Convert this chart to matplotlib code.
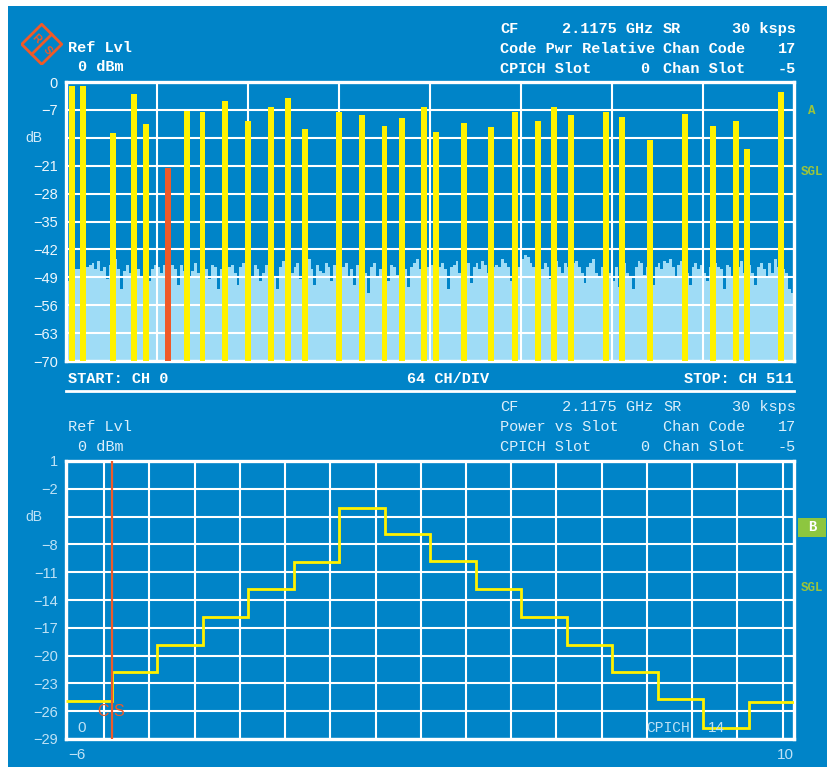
import numpy as np
import matplotlib.pyplot as plt
from matplotlib.patches import Rectangle, Polygon

# --- code domain power (upper trace) ---
code_ch = [4, 12, 33, 48, 56, 85, 96, 112, 128, 144, 156, 168, 192, 208, 224, 236,
           252, 260, 280, 299, 316, 332, 343, 355, 380, 391, 411, 435, 455, 471, 479, 503]
code_db = [-1.0, -1.0, -12.8, -3.0, -10.5, -7.3, -7.5, -4.8, -9.8, -6.3, -4.0, -11.8,
           -7.5, -8.3, -11.0, -9.0, -6.3, -12.5, -10.3, -11.3, -7.5, -9.8, -6.3, -8.3,
           -7.5, -8.8, -14.5, -8.0, -11.0, -9.8, -16.8, -2.5]
sel_ch = 72
sel_db = -21.7

# inactive channel floor, one value per 2 channels (0..511)
noise_db = [
    -50, -48, -51, -47, -47, -49, -48, -46.5, -46, -45.5, -47, -45, -47.5, -46.5, -49.5, -46,
    -46, -44.5, -47, -52, -47.5, -46, -48, -46, -44.5, -47, -49, -46.5, -46.5, -50, -47, -46,
    -46.5, -48, -46, -47.5, -48.5, -46, -47, -51, -46, -47.5, -46.5, -49, -47.5, -45.5, -48, -46.5,
    -45.5, -47, -49.5, -46, -46.5, -52, -47, -44.5, -47.5, -46.5, -46, -48, -51, -46.5, -45.5, -44,
    -47, -49, -46, -47, -50, -48, -46, -46.5, -45.5, -49, -52, -46.5, -45, -46, -47, -48,
    -46.5, -45.5, -49.5, -48, -46, -44.5, -47, -51, -46, -47.5, -48, -45.5, -46.5, -50, -46, -47,
    -45, -46.5, -45.5, -49, -47, -51, -46, -44, -46.5, -48, -53, -46.5, -45.5, -49, -47, -45.5,
    -46.5, -50, -46, -46.5, -48.5, -45, -45.5, -47, -51.5, -46.5, -45.5, -44.5, -47, -48, -49, -46.5,
    -46, -48, -50, -46.5, -45.5, -47, -52, -46.5, -46, -45, -48, -49, -46.5, -45.5, -50.5, -46.5,
    -45.5, -47, -45, -46, -48, -49, -46.5, -46, -46.5, -44.5, -45.5, -46.5, -50, -47, -46, -46.5,
    -44.5, -43.5, -44, -45.5, -46.5, -51, -45.5, -47, -45.5, -46.5, -49.5, -46, -45, -46.5, -48, -45.5,
    -46.5, -49, -45.5, -45, -46.5, -48, -50.5, -46.5, -45.5, -44.5, -48, -49, -46.5, -46, -47, -48,
    -50, -46.5, -51.5, -46.5, -45.5, -48, -49, -52, -46.5, -45, -45.5, -48.5, -46.5, -46, -51, -46.5,
    -45.5, -47, -45, -45.5, -44.5, -46.5, -49, -46, -45, -46.5, -48, -51, -46.5, -45.5, -47, -46,
    -48, -50, -46.5, -49.5, -45.5, -46.5, -47, -52, -46, -46.5, -49, -45.5, -46.5, -45, -48, -46.5,
    -46, -48, -51, -46.5, -45.5, -47, -49, -45.5, -48, -44.5, -46.5, -50, -47, -48, -52, -53,
]
top_yticks = [0, -7, -14, -21, -28, -35, -42, -49, -56, -63, -70]

# --- power vs slot (lower trace) ---
slot_edges = list(range(-6, 11))
slot_db = [-24.9, -21.8, -18.9, -15.8, -12.8, -9.9, -4.1, -6.9,
           -9.8, -12.8, -15.8, -18.9, -21.8, -24.7, -27.8, -25.0]
chan_slot = -5
bot_yticks = [1, -2, -5, -8, -11, -14, -17, -20, -23, -26, -29]

W, H = 827, 767
BLUE = '#0084c8'
YELLOW = '#fff200'
ORANGE = '#ef5a28'
NOISE = '#9fdcf6'
LIGHT = '#bfe2f6'
GREEN = '#9cc43c'


def fx(x):
    return x / W


def fy(y):
    return 1 - y / H


def ftext(x, y, s, **kw):
    kw.setdefault('va', 'center')
    fig.text(fx(x), fy(y), s, **kw)


def minus(v):
    return str(v).replace('-', '\u2212')


fig = plt.figure(figsize=(W / 100, H / 100), dpi=100, facecolor='white')
fig.patches.append(Rectangle((fx(8), 0), 1, fy(6), transform=fig.transFigure,
                             facecolor=BLUE, edgecolor='none', zorder=-10))


def style_axes(ax):
    ax.set_facecolor(BLUE)
    for sp in ax.spines.values():
        sp.set_color('white')
        sp.set_linewidth(2.4)
    ax.grid(True, color='white', linewidth=1.5)
    ax.set_axisbelow(False)
    ax.tick_params(length=0, pad=6, labelbottom=False)
    ax.tick_params(axis='y', labelsize=10.5)


# upper plot: code domain power
ax1 = fig.add_axes([fx(66), fy(361), fx(728), 279 / H])
ax1.stairs(noise_db, np.arange(0, 513, 2), baseline=-70, fill=True,
           color=NOISE, linewidth=0, zorder=1)
ax1.bar(code_ch, np.array(code_db) + 70, bottom=-70, width=4.2,
        color=YELLOW, linewidth=0, zorder=3)
ax1.bar([sel_ch], [sel_db + 70], bottom=-70, width=4.2,
        color=ORANGE, linewidth=0, zorder=3)
ax1.set_xlim(0, 512)
ax1.set_ylim(-70, 0)
ax1.set_xticks(np.arange(64, 512, 64))
ax1.set_yticks(top_yticks)
ax1.set_yticklabels(['' if v == -14 else minus(v) for v in top_yticks],
                    color='#eef7fd', family='Liberation Sans')
style_axes(ax1)

# lower plot: power vs slot
ax2 = fig.add_axes([fx(66), fy(739), fx(728), 278 / H])
ax2.stairs(slot_db, slot_edges, baseline=None, color=YELLOW, linewidth=2.0, zorder=3)
ax2.axvline(chan_slot, color=ORANGE, linewidth=1.6, zorder=4)
ax2.set_xlim(slot_edges[0], slot_edges[-1])
ax2.set_ylim(-29, 1)
ax2.set_xticks(np.linspace(-5.16, 9.75, 16))
ax2.set_yticks(bot_yticks)
ax2.set_yticklabels(['' if v == -5 else minus(v) for v in bot_yticks],
                    color=LIGHT, family='Liberation Sans')
style_axes(ax2)
ax2.text(chan_slot, -26.0, 'C S', color=ORANGE, ha='center', va='center',
         fontsize=11.5, family='Liberation Sans', zorder=5)
ax2.text(-5.65, -27.8, '0', color=LIGHT, ha='center', va='center',
         fontsize=11, family='Liberation Sans', zorder=5)
ax2.text(6.76, -27.8, 'CPICH', color=LIGHT, ha='left', va='center',
         fontsize=10.5, family='Liberation Mono', zorder=5)
ax2.text(8.1, -27.8, '14', color=LIGHT, ha='left', va='center',
         fontsize=11, family='Liberation Sans', zorder=5)
xt = ax2.get_xaxis_transform()
ax2.text(slot_edges[0] + 0.05, -0.058, minus(slot_edges[0]), transform=xt, color=LIGHT,
         ha='left', va='center', fontsize=11, family='Liberation Sans')
ax2.text(slot_edges[-1], -0.058, minus(slot_edges[-1]), transform=xt, color=LIGHT,
         ha='right', va='center', fontsize=11, family='Liberation Sans')

# axis unit labels
ftext(34, 138, 'dB', color='#d5ecfa', ha='center', fontsize=10, family='Liberation Sans')
ftext(34, 517, 'dB', color=LIGHT, ha='center', fontsize=10, family='Liberation Sans')

# header of the upper screen
hdr = dict(color='white', fontsize=11, family='Liberation Mono', weight='bold')
ftext(68, 48, 'Ref Lvl', **hdr)
ftext(78, 67, '0 dBm', **hdr)
ftext(500, 29, 'CF', **hdr)
ftext(653, 29, '2.1175 GHz', ha='right', **hdr)
ftext(663, 29, 'SR', **hdr)
ftext(796, 29, '30 ksps', ha='right', **hdr)
ftext(500, 49, 'Code Pwr Relative', **hdr)
ftext(663, 49, 'Chan Code', **hdr)
ftext(796, 49, '17', ha='right', **hdr)
ftext(500, 69, 'CPICH Slot', **hdr)
ftext(649, 69, '0', ha='right', **hdr)
ftext(663, 69, 'Chan Slot', **hdr)
ftext(796, 69, '-5', ha='right', **hdr)

# channel span row
ftext(68, 379, 'START: CH 0', **hdr)
ftext(448, 379, '64 CH/DIV', ha='center', **hdr)
ftext(794, 379, 'STOP: CH 511', ha='right', **hdr)
fig.add_artist(plt.Line2D([fx(66), fx(794)], [fy(391), fy(391)],
                          color='white', linewidth=2, transform=fig.transFigure))

# header of the lower screen
hdr2 = dict(color='#dcefFb', fontsize=11, family='Liberation Mono')
ftext(68, 427, 'Ref Lvl', **hdr2)
ftext(78, 447, '0 dBm', **hdr2)
ftext(500, 407, 'CF', **hdr2)
ftext(653, 407, '2.1175 GHz', ha='right', **hdr2)
ftext(663, 407, 'SR', **hdr2)
ftext(796, 407, '30 ksps', ha='right', **hdr2)
ftext(500, 427, 'Power vs Slot', **hdr2)
ftext(663, 427, 'Chan Code', **hdr2)
ftext(796, 427, '17', ha='right', **hdr2)
ftext(500, 447, 'CPICH Slot', **hdr2)
ftext(649, 447, '0', ha='right', **hdr2)
ftext(663, 447, 'Chan Slot', **hdr2)
ftext(796, 447, '-5', ha='right', **hdr2)

# trace markers at the right edge
side = dict(color=GREEN, fontsize=9, family='Liberation Mono', weight='bold', ha='center')
ftext(812, 111, 'A', **side)
ftext(812, 172, 'SGL', **side)
fig.patches.append(Rectangle((fx(798), fy(537)), fx(28), 19 / H, transform=fig.transFigure,
                             facecolor='#8dc63f', edgecolor='none'))
ftext(812, 527, 'B', color='white', fontsize=10, family='Liberation Mono',
      weight='bold', ha='center')
ftext(812, 588, 'SGL', **side)

# R&S diamond logo
lg = fig.add_axes([fx(20.7), fy(65.3), fx(42), 42 / H])
lg.set_xlim(-1.05, 1.05)
lg.set_ylim(-1.05, 1.05)
lg.axis('off')
lg.add_patch(Polygon([(0, 1), (1, 0), (0, -1), (-1, 0)], closed=True,
                     fill=False, edgecolor=ORANGE, linewidth=2))
lg.plot([-0.5, 0.5], [-0.5, 0.5], color=ORANGE, linewidth=2)
lg.text(-0.3, 0.3, 'R', color=ORANGE, fontsize=8, weight='bold', rotation=-45,
        ha='center', va='center', family='Liberation Sans')
lg.text(0.3, -0.3, 'S', color=ORANGE, fontsize=8, weight='bold', rotation=-45,
        ha='center', va='center', family='Liberation Sans')

fig.savefig('out.png', dpi=100, facecolor='white')
